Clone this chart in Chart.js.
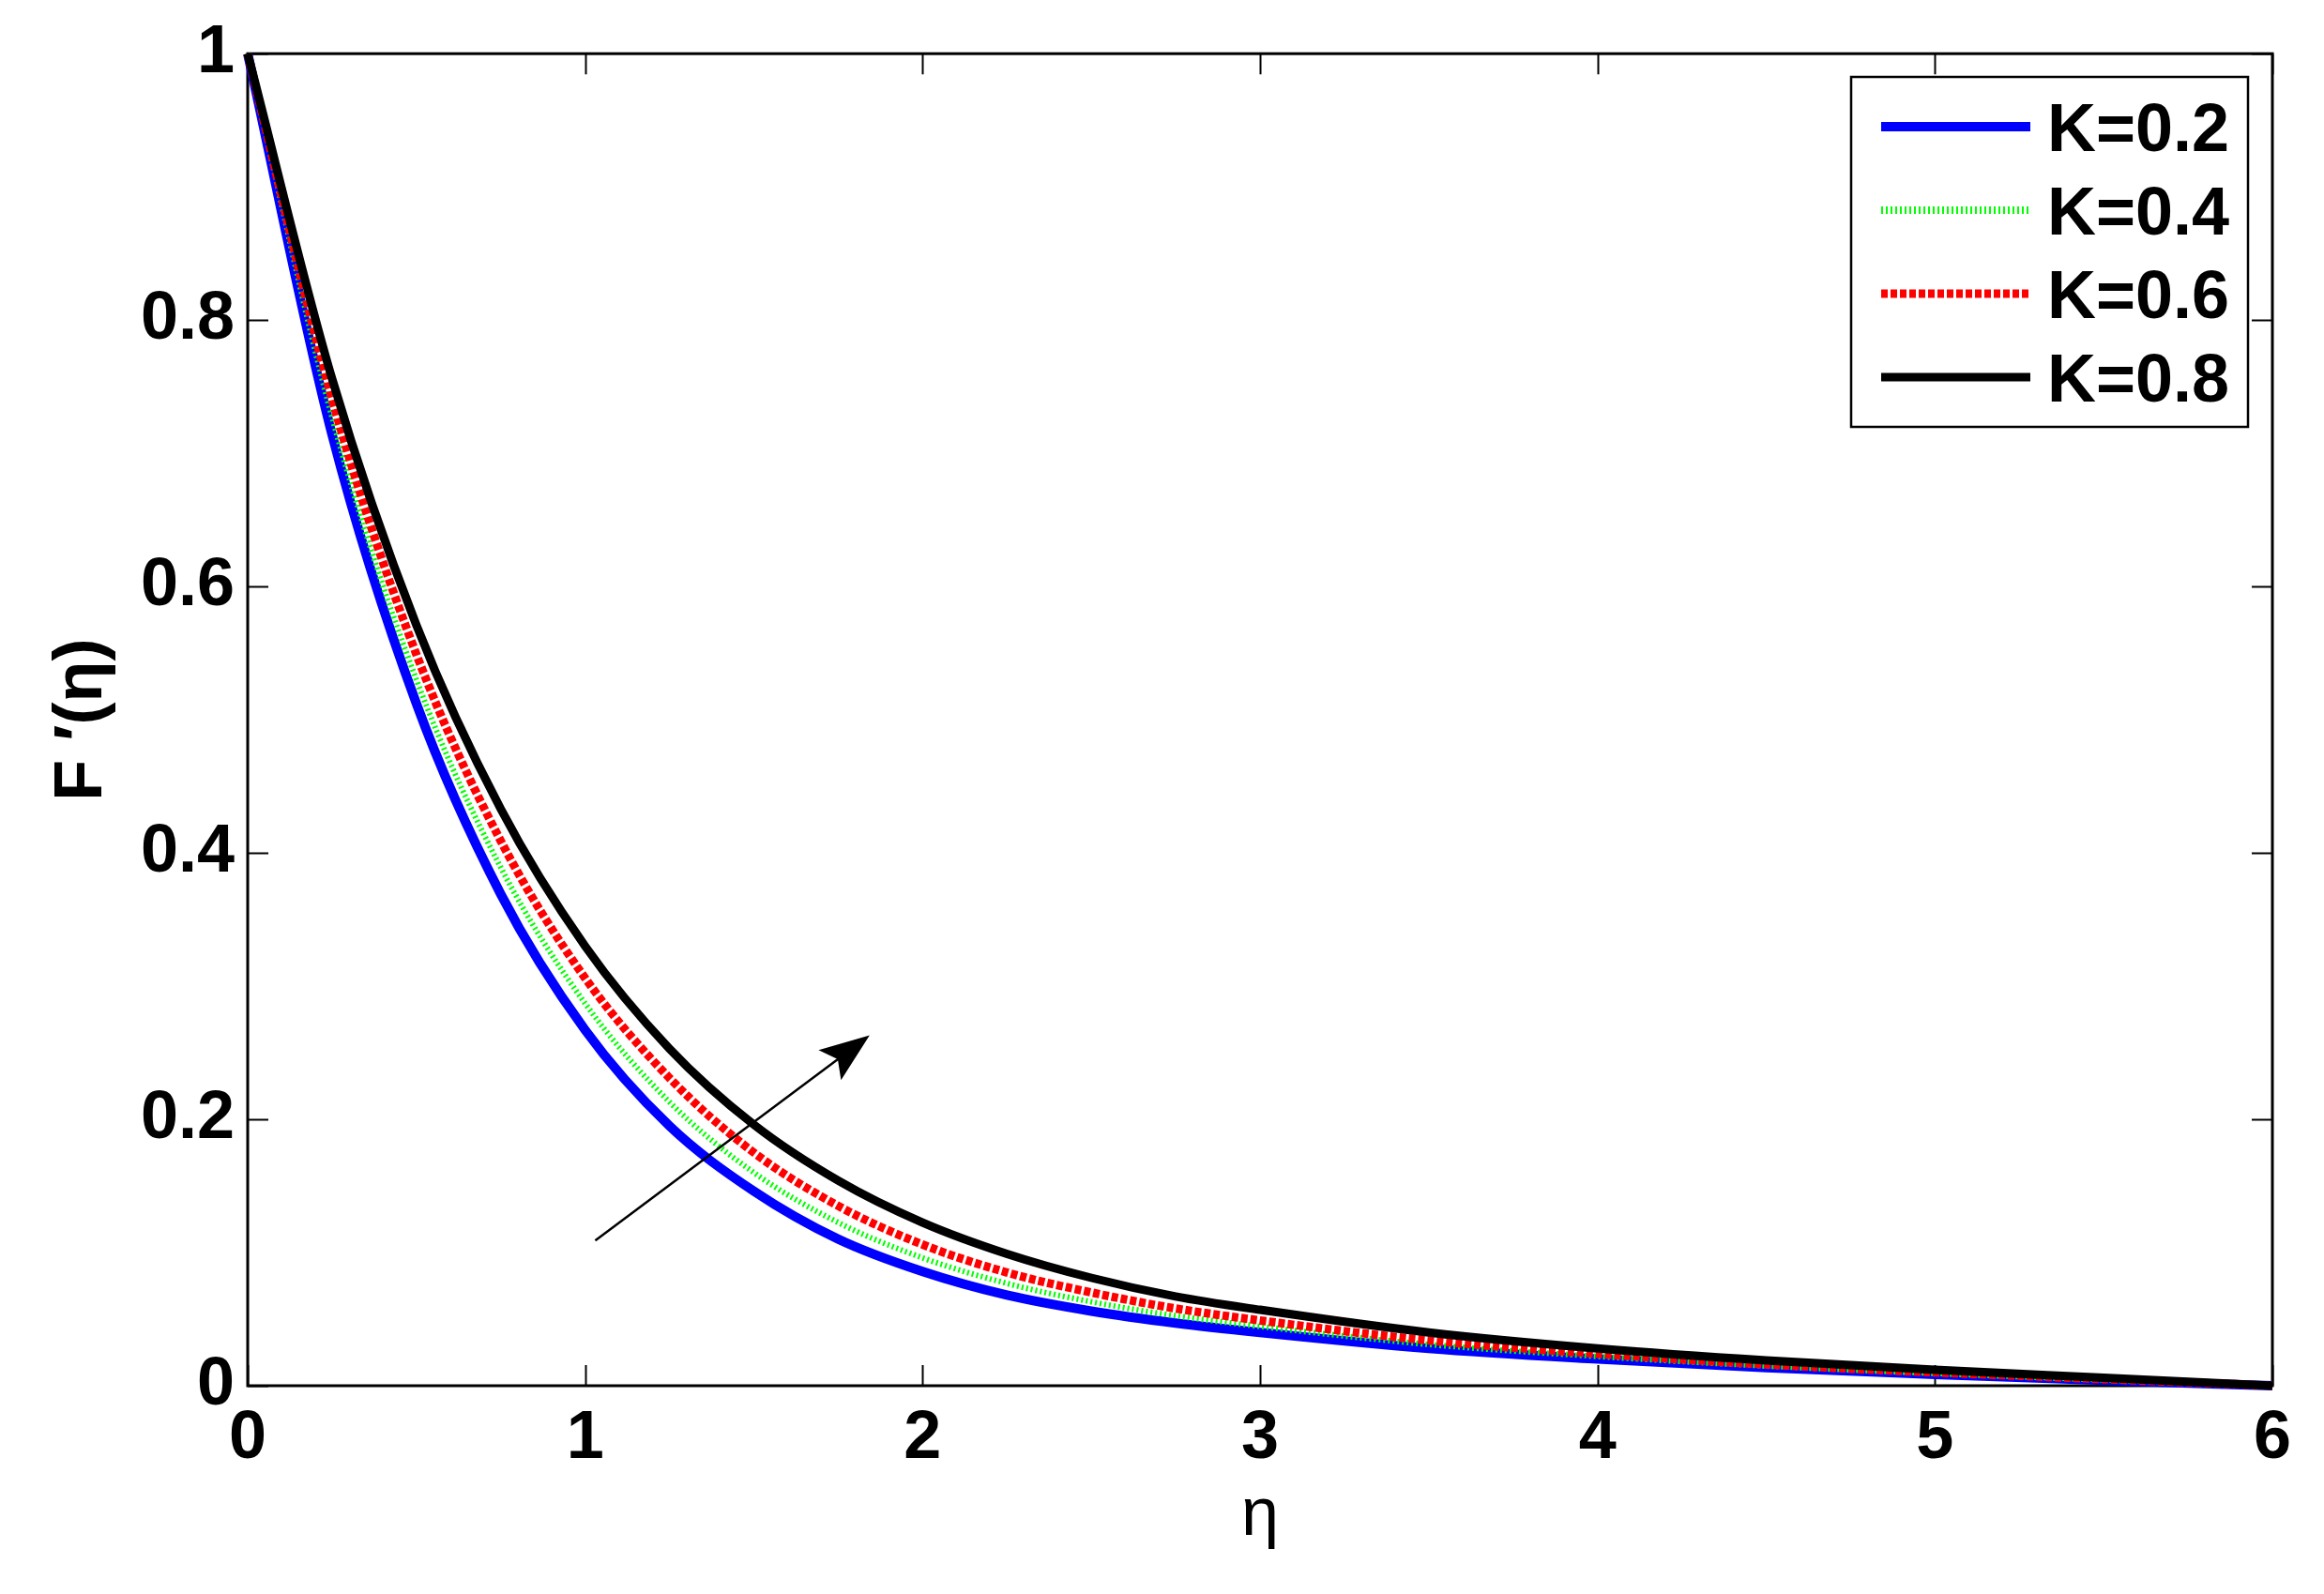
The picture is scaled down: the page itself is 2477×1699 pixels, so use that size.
<!DOCTYPE html>
<html>
<head>
<meta charset="utf-8">
<script src="https://cdn.jsdelivr.net/npm/chart.js@4/dist/chart.umd.min.js"></script>
<style>
  html, body { margin: 0; padding: 0; background: #ffffff; }
  #c { display: block; }
</style>
</head>
<body>
<canvas id="c" width="2477" height="1699"></canvas>
<script>
// ---- data ----
const eta = [0, 0.25, 0.5, 0.75, 1, 1.25, 1.5, 1.75, 2, 2.25, 2.5, 2.75, 3, 3.5, 4, 4.5, 5, 5.5, 6];
const K02 = [1, 0.714, 0.512, 0.369, 0.267, 0.195, 0.146, 0.110, 0.0857, 0.068, 0.056, 0.047, 0.040, 0.028, 0.020, 0.0135, 0.0085, 0.004, 0];
const K04 = [1, 0.727, 0.530, 0.389, 0.287, 0.213, 0.160, 0.1225, 0.096, 0.0768, 0.063, 0.0525, 0.0445, 0.031, 0.022, 0.0148, 0.0093, 0.0045, 0];
const K06 = [1, 0.741, 0.549, 0.409, 0.306, 0.231, 0.175, 0.135, 0.106, 0.085, 0.070, 0.058, 0.049, 0.034, 0.024, 0.016, 0.010, 0.005, 0];
const K08 = [1, 0.756, 0.571, 0.433, 0.330, 0.253, 0.196, 0.154, 0.1225, 0.099, 0.081, 0.067, 0.057, 0.040, 0.028, 0.019, 0.012, 0.006, 0];
const seriesLabels = ['K=0.2', 'K=0.4', 'K=0.6', 'K=0.8'];
const xTickLabels = ['0', '1', '2', '3', '4', '5', '6'];
const yTickLabels = ['0', '0.2', '0.4', '0.6', '0.8', '1'];
const xTitle = 'η';
const yTitle = 'F ′(η)';
// arrow annotation (data units): tail and head
const arrowTail = [1.03, 0.109];
const arrowHead = [1.843, 0.263];

const FONT = '"Liberation Sans", Arial, sans-serif';
const pts = (ys) => eta.map((x, i) => ({ x: x, y: ys[i] }));

const framePlugin = {
  id: 'frame',
  beforeDatasetsDraw(chart) {
    const { ctx, chartArea: { left, right, top, bottom }, scales: { x, y } } = chart;
    ctx.save();
    ctx.strokeStyle = '#000';
    ctx.lineWidth = 3;
    ctx.strokeRect(left, top, right - left, bottom - top);
    ctx.lineWidth = 2;
    const tl = 22;
    ctx.beginPath();
    x.ticks.forEach(t => {
      const p = Math.round(x.getPixelForValue(t.value)) + 0.5;
      ctx.moveTo(p, bottom); ctx.lineTo(p, bottom - tl);
      ctx.moveTo(p, top); ctx.lineTo(p, top + tl);
    });
    y.ticks.forEach(t => {
      const p = Math.round(y.getPixelForValue(t.value)) + 0.5;
      ctx.moveTo(left, p); ctx.lineTo(left + tl, p);
      ctx.moveTo(right, p); ctx.lineTo(right - tl, p);
    });
    ctx.stroke();
    ctx.restore();
  }
};

const arrowPlugin = {
  id: 'arrow',
  afterDatasetsDraw(chart) {
    const { ctx, scales: { x, y } } = chart;
    const x0 = x.getPixelForValue(arrowTail[0]), y0 = y.getPixelForValue(arrowTail[1]);
    const x1 = x.getPixelForValue(arrowHead[0]), y1 = y.getPixelForValue(arrowHead[1]);
    const dx = x1 - x0, dy = y1 - y0, L = Math.hypot(dx, dy);
    const ux = dx / L, uy = dy / L, nx = -uy, ny = ux;
    const hl = 53, hw = 20;
    ctx.save();
    ctx.strokeStyle = '#000';
    ctx.fillStyle = '#000';
    ctx.lineWidth = 2.5;
    ctx.beginPath();
    ctx.moveTo(x0, y0);
    ctx.lineTo(x1 - ux * hl * 0.6, y1 - uy * hl * 0.6);
    ctx.stroke();
    ctx.beginPath();
    ctx.moveTo(x1, y1);
    ctx.lineTo(x1 - ux * hl + nx * hw, y1 - uy * hl + ny * hw);
    ctx.lineTo(x1 - ux * hl * 0.8, y1 - uy * hl * 0.8);
    ctx.lineTo(x1 - ux * hl - nx * hw, y1 - uy * hl - ny * hw);
    ctx.closePath();
    ctx.fill();
    ctx.restore();
  }
};

const legendPlugin = {
  id: 'boxLegend',
  afterDraw(chart) {
    const { ctx } = chart;
    const bx = 1973, by = 82, bw = 423, bh = 373;
    ctx.save();
    ctx.fillStyle = '#fff';
    ctx.fillRect(bx, by, bw, bh);
    ctx.strokeStyle = '#000';
    ctx.lineWidth = 2.5;
    ctx.strokeRect(bx, by, bw, bh);
    const rows = [135, 224, 313, 402];
    chart.data.datasets.forEach((ds, i) => {
      const yy = rows[i];
      ctx.save();
      ctx.strokeStyle = ds.borderColor;
      ctx.lineWidth = ds.legendWidth || ds.borderWidth;
      ctx.setLineDash(ds.borderDash || []);
      ctx.beginPath();
      ctx.moveTo(2005, yy);
      ctx.lineTo(2164, yy);
      ctx.stroke();
      ctx.restore();
      ctx.fillStyle = '#000';
      ctx.font = 'bold 72px ' + FONT;
      ctx.textAlign = 'left';
      ctx.textBaseline = 'alphabetic';
      ctx.fillText(ds.label, 2182, yy + 26);
    });
    ctx.restore();
  }
};

Chart.defaults.font.family = FONT;
Chart.defaults.color = '#000';

new Chart(document.getElementById('c').getContext('2d'), {
  type: 'line',
  data: {
    datasets: [
      { label: seriesLabels[0], data: pts(K02), borderColor: '#0000ff', borderWidth: 10, order: 3 },
      { label: seriesLabels[1], data: pts(K04), borderColor: '#00ff00', borderWidth: 6, borderDash: [2, 3], legendWidth: 8, order: 2 },
      { label: seriesLabels[2], data: pts(K06), borderColor: '#ff0000', borderWidth: 9, borderDash: [7, 3], order: 1 },
      { label: seriesLabels[3], data: pts(K08), borderColor: '#000000', borderWidth: 9, order: 0 }
    ]
  },
  options: {
    responsive: false,
    animation: false,
    devicePixelRatio: 1,
    layout: { padding: { top: 55, right: 55, left: 0, bottom: 0 } },
    elements: {
      point: { radius: 0, hoverRadius: 0 },
      line: { cubicInterpolationMode: 'monotone', fill: false, borderCapStyle: 'butt' }
    },
    datasets: { line: { clip: false } },
    plugins: { legend: { display: false }, tooltip: { enabled: false } },
    events: [],
    scales: {
      x: {
        type: 'linear', min: 0, max: 6,
        afterFit: (s) => { s.height = 222; },
        grid: { display: false, drawTicks: false },
        border: { display: false },
        ticks: {
          stepSize: 1, padding: 14,
          font: { size: 72, weight: 'bold' },
          callback: (v) => xTickLabels[Math.round(v)] ?? ''
        },
        title: { display: true, text: xTitle, padding: { top: 0, bottom: 40 }, font: { size: 72, weight: 'normal' } }
      },
      y: {
        type: 'linear', min: 0, max: 1,
        afterFit: (s) => { s.width = 264; },
        grid: { display: false, drawTicks: false },
        border: { display: false },
        ticks: {
          stepSize: 0.2, padding: 14,
          font: { size: 72, weight: 'bold' },
          callback: (v) => yTickLabels[Math.round(v * 5)] ?? ''
        },
        title: { display: true, text: yTitle, padding: { top: 45, bottom: 0 }, font: { size: 72, weight: 'bold' } }
      }
    }
  },
  plugins: [framePlugin, arrowPlugin, legendPlugin]
});
</script>
</body>
</html>
